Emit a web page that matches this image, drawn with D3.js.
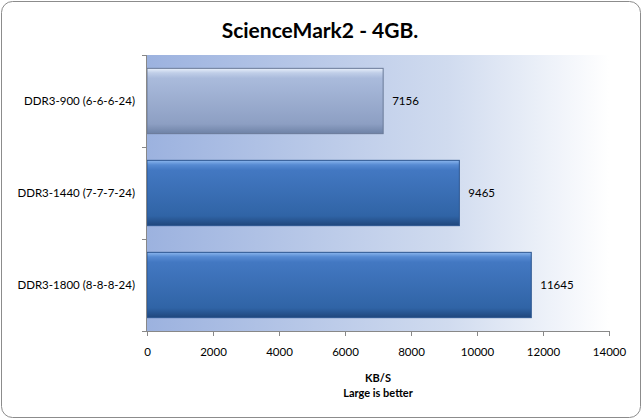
<!DOCTYPE html>
<html><head><meta charset="utf-8">
<script src="https://cdn.jsdelivr.net/npm/d3@7"></script>
<style>body{margin:0;background:#fff}svg{display:block}</style>
</head><body>
<svg id="c" width="643" height="420"></svg>
<script>
const categories = ["DDR3-900 (6-6-6-24)", "DDR3-1440 (7-7-7-24)", "DDR3-1800 (8-8-8-24)"];
const values = [7156, 9465, 11645];
const xTicks = [0, 2000, 4000, 6000, 8000, 10000, 12000, 14000];
const title = "ScienceMark2 - 4GB.";
const axisTitle = ["KB/S", "Large is better"];

const svg = d3.select("#c");
const font = "Lato, 'Open Sans', sans-serif";
const L = 147, R = 609, T = 55, B = 331;

const defs = svg.append("defs");
const bg = defs.append("linearGradient").attr("id","bg").attr("x1","0").attr("x2","1").attr("y1","0").attr("y2","0");
bg.append("stop").attr("offset","0").attr("stop-color","#9cb2df");
bg.append("stop").attr("offset","0.65").attr("stop-color","#d0dbef");
bg.append("stop").attr("offset","1").attr("stop-color","#ffffff");

function barGrad(id, stops){
  const g = defs.append("linearGradient").attr("id",id).attr("x1","0").attr("x2","0").attr("y1","0").attr("y2","1");
  stops.forEach(s=>g.append("stop").attr("offset",s[0]).attr("stop-color",s[1]));
}
barGrad("g0", [[0,"#e8f0fb"],[0.07,"#c0cee8"],[0.15,"#aabbdc"],[0.85,"#8d9fc3"],[1,"#6e82a6"]]);
barGrad("g1", [[0,"#8bb6ee"],[0.07,"#568ad2"],[0.15,"#4378c2"],[0.85,"#3064a6"],[1,"#1f467c"]]);
const barFill = ["url(#g0)","url(#g1)","url(#g1)"];
const barStroke = ["#6a7a98","#2c5690","#2c5690"];

svg.append("rect").attr("x",1.5).attr("y",1.5).attr("width",639).attr("height",416)
  .attr("rx",11).attr("fill","#fff").attr("stroke","#8c8c8c").attr("stroke-width",1);

svg.append("text").attr("x",320).attr("y",38).attr("text-anchor","middle")
  .attr("font-family",font).attr("font-weight","bold").attr("font-size",21).attr("fill","#000").text(title);

const x = d3.scaleLinear().domain([0,14000]).range([L,R]);
const y = d3.scaleBand().domain(categories).range([T,B]).paddingInner(0.29).paddingOuter(0.145);

svg.append("rect").attr("x",L).attr("y",T).attr("width",R-L).attr("height",B-T).attr("fill","url(#bg)");

svg.append("g").selectAll("rect").data(values).join("rect")
  .attr("x",x(0)).attr("y",(d,i)=>y(categories[i]))
  .attr("width",d=>x(d)-x(0)).attr("height",y.bandwidth())
  .attr("fill",(d,i)=>barFill[i]).attr("stroke",(d,i)=>barStroke[i]).attr("stroke-width",1);

svg.append("g").selectAll("text").data(values).join("text")
  .attr("x",d=>x(d)+9).attr("y",(d,i)=>y(categories[i])+y.bandwidth()/2+4)
  .attr("font-family",font).attr("font-size",11.5).attr("fill","#000").text(d=>d);

const xa = svg.append("g").attr("transform",`translate(0,${B})`)
  .call(d3.axisBottom(x).tickValues(xTicks).tickSize(5).tickPadding(12).tickFormat(d3.format("d")));
xa.select(".domain").attr("stroke","#888").attr("d",`M${L},0.5H${R}`);
xa.selectAll(".tick line").attr("stroke","#888");
xa.selectAll("text").attr("font-family",font).attr("font-size",11.5).attr("fill","#000");

const ya = svg.append("g").attr("transform",`translate(${L},0)`);
ya.append("line").attr("x1",-0.5).attr("x2",-0.5).attr("y1",T).attr("y2",B).attr("stroke","#888");
const bounds = [T, ...categories.slice(1).map(c=>y(c)-y.step()*y.paddingInner()/2), B];
ya.selectAll("line.t").data(bounds).join("line").attr("class","t")
  .attr("x1",-5).attr("x2",0).attr("y1",d=>Math.round(d)+0.5).attr("y2",d=>Math.round(d)+0.5).attr("stroke","#888");
ya.selectAll("text").data(categories).join("text")
  .attr("x",-12).attr("y",c=>y(c)+y.bandwidth()/2+4).attr("text-anchor","end")
  .attr("font-family",font).attr("font-size",11.5).attr("fill","#000").text(c=>c);

svg.append("g").selectAll("text").data(axisTitle).join("text")
  .attr("x",(L+R)/2).attr("y",(d,i)=>382+i*15).attr("text-anchor","middle")
  .attr("font-family",font).attr("font-weight","bold").attr("font-size",11).attr("fill","#000").text(d=>d);
</script>
</body></html>
